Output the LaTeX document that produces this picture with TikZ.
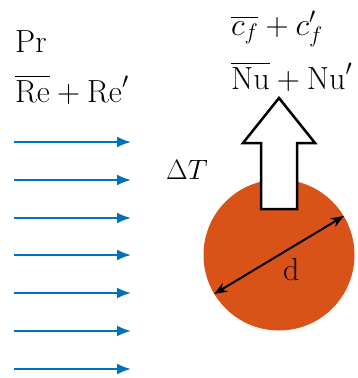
\RequirePackage{fix-cm}
\documentclass[tikz,border=0pt]{standalone}
\usepackage{amsmath}
\usepackage{tikz}
\usetikzlibrary{
    arrows.meta
}
\definecolor{flowblue}{HTML}{0072BD}
\definecolor{cylorange}{HTML}{D95319}

\begin{document}
\begin{tikzpicture}[x=1pt,y=-1pt,
    lbl/.style={anchor=base west,inner sep=0pt,font=\fontsize{32}{38}\selectfont}]
\useasboundingbox (0,0) rectangle (358,378);

% Free stream
\foreach \yy in {142,180,218,255,293,331,369}
    \draw[flowblue,line width=2pt,-{Latex[length=14pt,width=11pt]}] (14,\yy) -- (131,\yy);
\node[lbl] (pr) at (15,52) {Pr};
\node[lbl] (re) at (15,102) {$\overline{\mathrm{Re}}+\mathrm{Re}'$};

% Cylinder
\node[circle,fill=cylorange,minimum size=151pt,inner sep=0pt] (cyl) at (279,255) {};
\node[lbl,font=\fontsize{28}{34}\selectfont] (dT) at (166,179) {$\Delta T$};

% Diameter
\draw[line width=2pt,{Stealth[length=13pt,width=10pt]}-{Stealth[length=13pt,width=10pt]}] (cyl.211.8) -- (cyl.31.8);
\node[lbl] (d) at (283,280) {d};

% Heat flux arrow
\draw[line width=2.5pt,fill=white,line join=miter]
    (279,98) -- (315,143) -- (297,143) -- (297,209) -- (261,209) -- (261,143) -- (243,143) -- cycle;
\node[lbl] (cf) at (231,35) {$\overline{c_f}+c'_f$};
\node[lbl] (nu) at (231,89) {$\overline{\mathrm{Nu}}+\mathrm{Nu}'$};
\end{tikzpicture}
\end{document}
